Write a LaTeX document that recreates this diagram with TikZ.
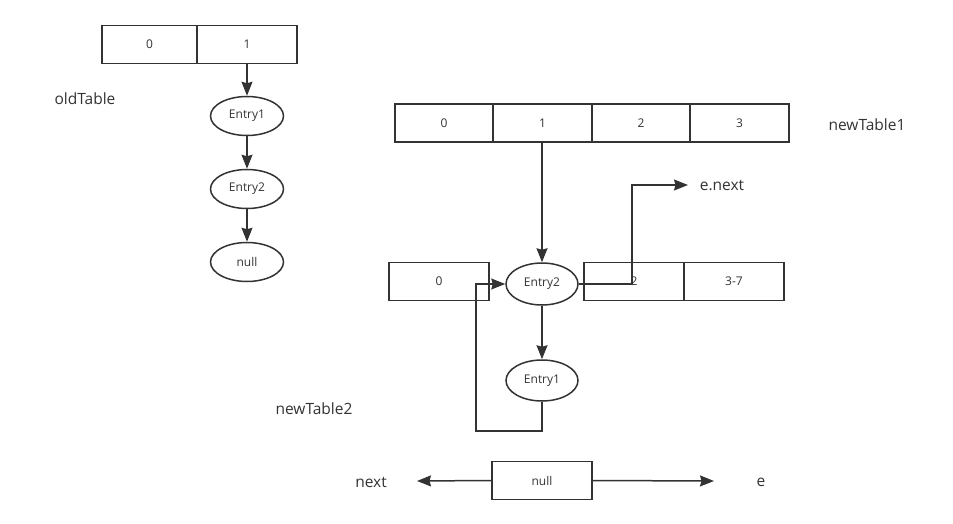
\documentclass[tikz,border=0pt]{standalone}
\usepackage{fontspec}
\setmainfont{Open Sans}
\usetikzlibrary{arrows.meta,shapes.geometric}
\definecolor{ink}{HTML}{333333}
\tikzset{
  cell/.style={draw=ink, line width=1.5pt, minimum width=98pt, minimum height=38pt,
    inner sep=0pt, text=ink, font=\fontsize{12}{14}\selectfont},
  entry/.style={draw=ink, line width=1.5pt, ellipse, minimum width=73pt, minimum height=39pt,
    inner sep=0pt, text=ink, font=\fontsize{12}{14}\selectfont},
  caption/.style={text=ink, inner sep=0pt, font=\fontsize{15.5}{18}\selectfont},
  link/.style={draw=ink, line width=1.5pt, -{Stealth[length=14pt, width=11pt, inset=1.5pt]}},
}
\begin{document}
\begin{tikzpicture}[x=1pt, y=-1pt]
\useasboundingbox (0,0) rectangle (953,524);

% old table with its chain
\node[cell, minimum width=95pt] (o0) at (149.5,44.5) {0};
\node[cell, minimum width=100pt] (o1) at (247,44.5) {1};
\node[caption] (oldlbl) at (85,99) {oldTable};
\node[entry] (oe1) at (247,116) {Entry1};
\node[entry] (oe2) at (247,189) {Entry2};
\node[entry] (onull) at (247,262) {null};
\draw[link] (o1.south) -- (oe1.north);
\draw[link] (oe1.south) -- (oe2.north);
\draw[link] (oe2.south) -- (onull.north);

% new table 1
\node[cell] (n0) at (444,123) {0};
\node[cell, minimum width=99pt] (n1) at (542.5,123) {1};
\node[cell] (n2) at (641,123) {2};
\node[cell, minimum width=99pt] (n3) at (739.5,123) {3};
\node[caption] (new1lbl) at (867,125) {newTable1};

% new table 2 with the moved chain
\node[cell, minimum width=100pt] (m0) at (439,281.5) {0};
\node[cell, minimum width=100pt] (m2) at (634,281.5) {2};
\node[cell, minimum width=100pt] (m3) at (734,281.5) {3-7};
\node[entry, minimum width=72pt, minimum height=42pt] (ne2) at (542,284) {Entry2};
\node[entry, minimum width=72pt, minimum height=41pt] (ne1) at (542,380.5) {Entry1};
\node[caption] (new2lbl) at (314,409) {newTable2};
\node[caption] (nextlbl) at (722,186) {e.next};
\coordinate (enext) at (688,185);

\draw[link] (542,142) -- (ne2.north);
\draw[link] (ne2.south) -- (ne1.north);
\draw[link] (ne2.east) -- (632,284) -- (632,185) -- (enext);
\draw[link] (ne1.south) -- (542,431) -- (476,431) -- (476,284) -- (ne2.west);

% bottom pointer row
\node[cell, minimum width=100pt] (bnull) at (542,480.5) {null};
\node[caption] (bnext) at (371,482) {next};
\node[caption] (be) at (761,482) {e};
\coordinate (nexttip) at (417,481);
\coordinate (etip) at (714,481);
\draw[link] (bnull.west) -- (nexttip);
\draw[link] (bnull.east) -- (etip);
\end{tikzpicture}
\end{document}
